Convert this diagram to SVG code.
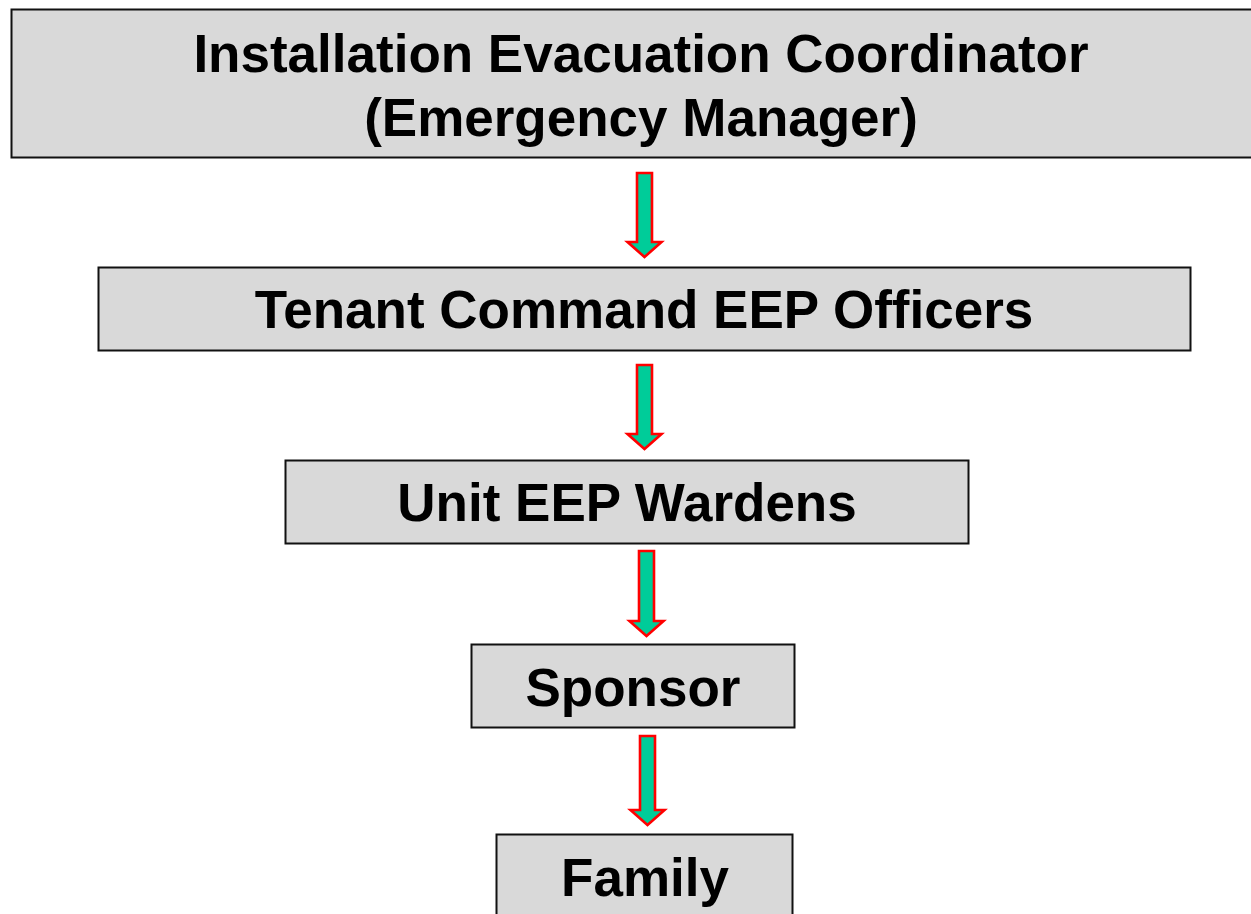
<svg xmlns="http://www.w3.org/2000/svg" width="1251" height="914" viewBox="0 0 1251 914">
<style>
.box{fill:#d9d9d9;stroke:#111;stroke-width:2}
.t{font-family:"Liberation Sans",Arial,sans-serif;font-weight:bold;font-size:53px;fill:#000;text-anchor:middle}
.arr{fill:#00cc99;stroke:#ff0000;stroke-width:2.6;stroke-linejoin:miter}
</style>
<rect width="1251" height="914" fill="#fff"/>
<g id="connectors">
<path class="arr" d="M637,173 H652 V242 H661.5 L644.5,257 L627.5,242 H637 Z"/>
<path class="arr" d="M637,365 H652 V434 H661.5 L644.5,449 L627.5,434 H637 Z"/>
<path class="arr" d="M639,551 H654 V621 H663.5 L646.5,636 L629.5,621 H639 Z"/>
<path class="arr" d="M640,736 H655 V810 H664.5 L647.5,825 L630.5,810 H640 Z"/>
</g>
<g id="node1">
<rect class="box" x="11.5" y="9.5" width="1250" height="148"/>
<text class="t" x="641" y="72">Installation Evacuation Coordinator</text>
<text class="t" x="641" y="136">(Emergency Manager)</text>
</g>
<g id="node2">
<rect class="box" x="98.5" y="267.5" width="1092" height="83"/>
<text class="t" x="644" y="328">Tenant Command EEP Officers</text>
</g>
<g id="node3">
<rect class="box" x="285.5" y="460.5" width="683" height="83"/>
<text class="t" x="627" y="521">Unit EEP Wardens</text>
</g>
<g id="node4">
<rect class="box" x="471.5" y="644.5" width="323" height="83"/>
<text class="t" x="633" y="706">Sponsor</text>
</g>
<g id="node5">
<rect class="box" x="496.5" y="834.5" width="296" height="100"/>
<text class="t" x="645" y="896">Family</text>
</g>
</svg>
